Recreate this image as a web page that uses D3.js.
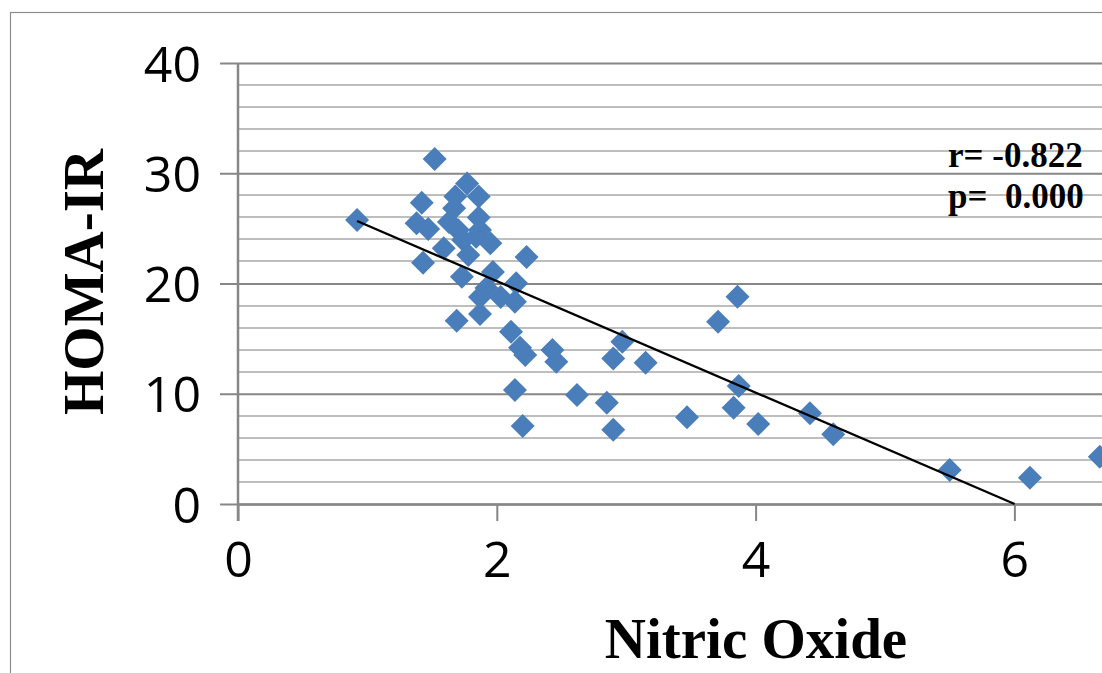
<!DOCTYPE html>
<head>
  <meta charset="utf-8">
  <script src="https://d3js.org/d3.v7.min.js"></script>
  <style>
    body { margin:0; background:#fff; overflow:hidden; }
  </style>
</head>
<body>
<script>

// Nitric Oxide (x) vs HOMA-IR (y)
var nitricOxide = [0.92, 1.52, 1.77, 1.86, 1.68, 1.42, 1.67, 1.86, 1.38, 1.47,
                   1.63, 1.70, 1.87, 1.59, 1.74, 1.84, 1.95, 1.78, 1.43, 2.23,
                   1.73, 1.97, 2.15, 1.92, 1.87, 2.03, 2.14, 1.87, 1.69, 2.11,
                   2.18, 2.22, 2.43, 2.46, 2.14, 2.20, 2.62, 2.85, 2.90, 2.90,
                   2.97, 3.15, 3.47, 3.86, 3.71, 3.87, 3.83, 4.02, 4.42, 4.60,
                   5.50, 6.12, 6.66];
var homaIR =      [25.76, 31.29, 29.07, 27.89, 27.89, 27.33, 26.82, 25.99, 25.46, 24.94,
                   25.58, 24.85, 24.85, 23.19, 23.95, 24.24, 23.65, 22.59, 21.89, 22.40,
                   20.62, 21.04, 20.02, 19.59, 18.78, 18.78, 18.35, 17.23, 16.63, 15.63,
                   14.18, 13.51, 13.97, 12.91, 10.34, 7.07, 9.89, 9.19, 6.74, 13.20,
                   14.72, 12.82, 7.86, 18.80, 16.54, 10.70, 8.73, 7.26, 8.23, 6.32,
                   3.08, 2.39, 4.29];

var xTicks = [0, 2, 4, 6];
var yTicks = [0, 10, 20, 30, 40];
var yMinor = [2, 4, 6, 8, 12, 14, 16, 18, 22, 24, 26, 28, 32, 34, 36, 38];

// linear trend line as shown (y = slope*x + intercept)
var trendSlope = -5.05;
var trendIntercept = 30.31;

var statLines = ["r= -0.822", "p=  0.000"];

var width = 1102, height = 673;

var x = d3.scaleLinear().domain([0, 8]).range([238, 238 + 8 * 129.4]);
var y = d3.scaleLinear().domain([0, 40]).range([504, 63]);

var svg = d3.select("body").append("svg")
  .attr("width", width)
  .attr("height", height);

svg.append("rect")
  .attr("width", width).attr("height", height)
  .attr("fill", "#fff");

// chart border (runs off right/bottom)
svg.append("rect")
  .attr("x", 10.5).attr("y", 12.5)
  .attr("width", 1200).attr("height", 800)
  .attr("fill", "none")
  .attr("stroke", "#8c8c8c")
  .attr("stroke-width", 1.2);

// minor gridlines
svg.append("g").selectAll("line")
  .data(yMinor).enter().append("line")
  .attr("x1", x(0)).attr("x2", x(8))
  .attr("y1", function(d) { return Math.round(y(d)); })
  .attr("y2", function(d) { return Math.round(y(d)); })
  .attr("stroke", "#bebebe")
  .attr("stroke-width", 2);

// y axis with major gridlines
var yAxis = d3.axisLeft(y)
  .tickValues(yTicks)
  .tickSizeInner(-(x(8) - x(0)))
  .tickSizeOuter(0)
  .tickPadding(37)
  .tickFormat(d3.format("d"));

var gy = svg.append("g")
  .attr("transform", "translate(" + x(0) + ",0)")
  .call(yAxis);
gy.select(".domain").remove();
gy.selectAll(".tick line")
  .attr("x1", -18)
  .attr("stroke", "#878787")
  .attr("stroke-width", 2);
gy.selectAll(".tick text")
  .attr("font-family", "'Open Sans', sans-serif")
  .attr("font-size", 50)
  .attr("fill", "#000")
  .attr("dy", "0.36em");

// x axis
var xAxis = d3.axisBottom(x)
  .tickValues(xTicks)
  .tickSizeInner(17)
  .tickSizeOuter(0)
  .tickPadding(20)
  .tickFormat(d3.format("d"));

var gx = svg.append("g")
  .attr("transform", "translate(0," + y(0) + ")")
  .call(xAxis);
gx.select(".domain")
  .attr("stroke", "#878787")
  .attr("stroke-width", 2.5);
gx.selectAll(".tick line")
  .attr("stroke", "#878787")
  .attr("stroke-width", 2);
gx.selectAll(".tick text")
  .attr("font-family", "'Open Sans', sans-serif")
  .attr("font-size", 50)
  .attr("fill", "#000")
  .attr("dy", "0.71em");

// vertical axis line
svg.append("line")
  .attr("x1", x(0)).attr("x2", x(0))
  .attr("y1", y(40)).attr("y2", y(0) + 17)
  .attr("stroke", "#878787")
  .attr("stroke-width", 2.5);

// points
var pts = nitricOxide.map(function(v, i) { return [v, homaIR[i]]; });

svg.append("g").selectAll("path")
  .data(pts).enter().append("path")
  .attr("transform", function(d) { return "translate(" + x(d[0]) + "," + y(d[1]) + ")"; })
  .attr("d", "M0,-12L12,0L0,12L-12,0Z")
  .attr("fill", "#4a7ebb");

// trend line, clipped at y = 0
var xStart = d3.min(nitricOxide);
var xEnd = Math.min(d3.max(nitricOxide), -trendIntercept / trendSlope);
svg.append("line")
  .attr("x1", x(xStart)).attr("y1", y(trendSlope * xStart + trendIntercept))
  .attr("x2", x(xEnd)).attr("y2", y(trendSlope * xEnd + trendIntercept))
  .attr("stroke", "#000")
  .attr("stroke-width", 2.3);

// stats annotation
svg.append("g").selectAll("text")
  .data(statLines).enter().append("text")
  .attr("x", 948)
  .attr("y", function(d, i) { return 167 + i * 41; })
  .attr("font-family", "'Liberation Serif', 'Times New Roman', serif")
  .attr("font-weight", "bold")
  .attr("font-size", 35)
  .style("white-space", "pre")
  .text(function(d) { return d; });

// axis titles
svg.append("text")
  .attr("transform", "translate(103,282) rotate(-90)")
  .attr("text-anchor", "middle")
  .attr("font-family", "'Liberation Serif', 'Times New Roman', serif")
  .attr("font-weight", "bold")
  .attr("font-size", 57)
  .text("HOMA-IR");

svg.append("text")
  .attr("x", 756)
  .attr("y", 658)
  .attr("text-anchor", "middle")
  .attr("font-family", "'Liberation Serif', 'Times New Roman', serif")
  .attr("font-weight", "bold")
  .attr("font-size", 57)
  .text("Nitric Oxide");

</script>
</body>
